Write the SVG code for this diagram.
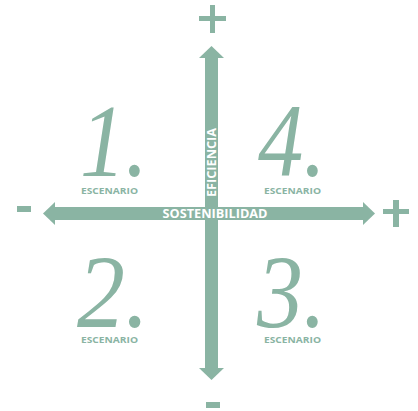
<svg xmlns="http://www.w3.org/2000/svg" width="418" height="411" viewBox="0 0 418 411">
<style>
.g{fill:#8AB4A3}
.num{font-family:"Liberation Serif","DejaVu Serif",serif;font-style:italic;font-size:104px;fill:#8AB4A3}
.lab{font-family:"Open Sans","Liberation Sans",sans-serif;font-weight:bold;font-size:9.5px;fill:#8AB4A3;text-anchor:middle}
.ax{font-family:"Open Sans","Liberation Sans",sans-serif;font-weight:bold;font-size:11.5px;fill:#ffffff;text-anchor:middle}
</style>
<rect width="418" height="411" fill="#ffffff"/>
<g id="connectors">
  <g id="vertical-axis">
    <rect class="g" x="205" y="57" width="13" height="312"/>
    <polygon class="g" points="211.5,46 224,58 199,58"/>
    <polygon class="g" points="211.5,380 224,368 199,368"/>
  </g>
  <g id="horizontal-axis">
    <rect class="g" x="54" y="207" width="310" height="13"/>
    <polygon class="g" points="43,213.5 55,202 55,225"/>
    <polygon class="g" points="375,213.5 363,202 363,225"/>
  </g>
  <text class="ax" x="215" y="218" textLength="105" lengthAdjust="spacingAndGlyphs">SOSTENIBILIDAD</text>
  <text class="ax" transform="translate(215.5,162.5) rotate(-90)" x="0" y="0" textLength="69" lengthAdjust="spacingAndGlyphs">EFICIENCIA</text>
</g>
<g id="signs">
  <rect class="g" x="199" y="16" width="27" height="5"/>
  <rect class="g" x="210" y="5" width="5" height="28"/>
  <rect class="g" x="383" y="209" width="26" height="5"/>
  <rect class="g" x="393" y="200" width="6" height="27"/>
  <rect class="g" x="17" y="206" width="14" height="6"/>
  <rect class="g" x="206" y="402" width="14" height="6"/>
</g>
<g id="scenario-1">
  <text class="num" x="80" y="176" textLength="68" lengthAdjust="spacingAndGlyphs">1.</text>
  <text class="lab" x="109.5" y="194" textLength="57" lengthAdjust="spacingAndGlyphs">ESCENARIO</text>
</g>
<g id="scenario-4">
  <text class="num" x="258" y="176" textLength="68" lengthAdjust="spacingAndGlyphs">4.</text>
  <text class="lab" x="292.5" y="194" textLength="57" lengthAdjust="spacingAndGlyphs">ESCENARIO</text>
</g>
<g id="scenario-2">
  <text class="num" x="77" y="327" textLength="72" lengthAdjust="spacingAndGlyphs">2.</text>
  <text class="lab" x="109.5" y="343" textLength="57" lengthAdjust="spacingAndGlyphs">ESCENARIO</text>
</g>
<g id="scenario-3">
  <text class="num" x="257" y="327" textLength="69" lengthAdjust="spacingAndGlyphs">3.</text>
  <text class="lab" x="292.5" y="343" textLength="57" lengthAdjust="spacingAndGlyphs">ESCENARIO</text>
</g>
</svg>
